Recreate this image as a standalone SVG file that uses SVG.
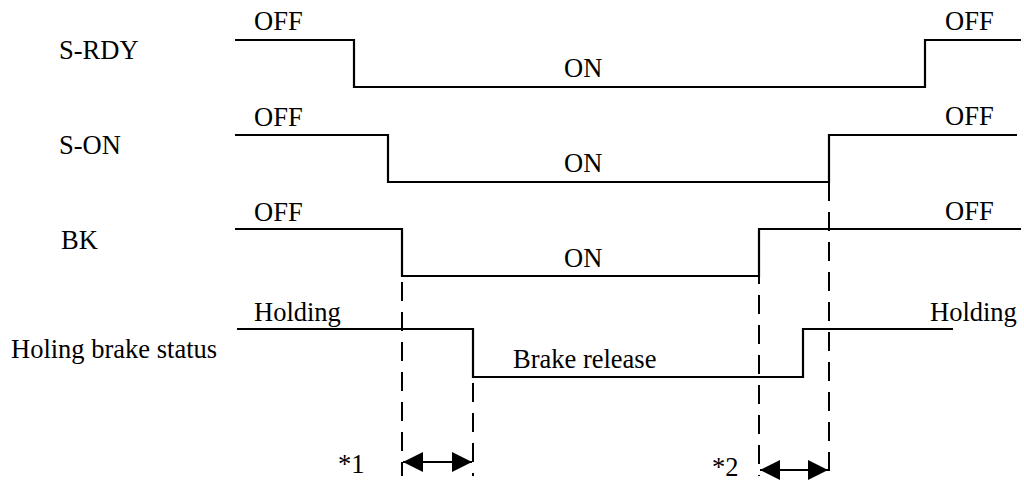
<svg xmlns="http://www.w3.org/2000/svg" width="1024" height="480" viewBox="0 0 1024 480">
<style>
text{font-family:"Liberation Serif","Times New Roman",serif;font-size:26.5px;fill:#000}
.sig{fill:none;stroke:#000;stroke-width:2.2}
.dash{fill:none;stroke:#000;stroke-width:2;stroke-dasharray:19 11}
.arr{fill:none;stroke:#000;stroke-width:2}
</style>
<defs>
<marker id="ah" viewBox="0 0 20 20" refX="20" refY="10" markerWidth="20" markerHeight="20" markerUnits="userSpaceOnUse" orient="auto-start-reverse">
<path d="M0,0 L20,10 L0,20 Z" fill="#000"/>
</marker>
</defs>
<rect width="1024" height="480" fill="#fff"/>
<g id="s-rdy">
<text x="59" y="59">S-RDY</text>
<text x="254" y="30">OFF</text>
<text x="564" y="77">ON</text>
<text x="945" y="30">OFF</text>
<path class="sig" d="M235,40 H354 V87 H925 V40 H1021"/>
</g>
<g id="s-on">
<text x="59" y="154">S-ON</text>
<text x="254" y="126">OFF</text>
<text x="564" y="172">ON</text>
<text x="945" y="125">OFF</text>
<path class="sig" d="M235,135 H388 V182 H829 V135 H1017"/>
</g>
<g id="bk">
<text x="61" y="249">BK</text>
<text x="254" y="221">OFF</text>
<text x="564" y="267">ON</text>
<text x="945" y="220">OFF</text>
<path class="sig" d="M235,229 H402 V276 H759 V229 H1021"/>
</g>
<g id="brake">
<text x="11" y="358">Holing brake status</text>
<text x="254" y="321">Holding</text>
<text x="513" y="368">Brake release</text>
<text x="930" y="321">Holding</text>
<path class="sig" d="M237,329 H473 V377 H803 V329 H953"/>
</g>
<g id="connectors">
<line class="dash" x1="402" y1="282" x2="402" y2="476"/>
<line class="dash" x1="473" y1="383" x2="473" y2="476"/>
<line class="dash" x1="759" y1="235" x2="759" y2="476"/>
<line class="dash" x1="829" y1="182" x2="829" y2="476"/>
<line class="arr" x1="403" y1="462" x2="472" y2="462" marker-start="url(#ah)" marker-end="url(#ah)"/>
<line class="arr" x1="760" y1="470" x2="828" y2="470" marker-start="url(#ah)" marker-end="url(#ah)"/>
<text x="338" y="473">*1</text>
<text x="712" y="476">*2</text>
</g>
</svg>
